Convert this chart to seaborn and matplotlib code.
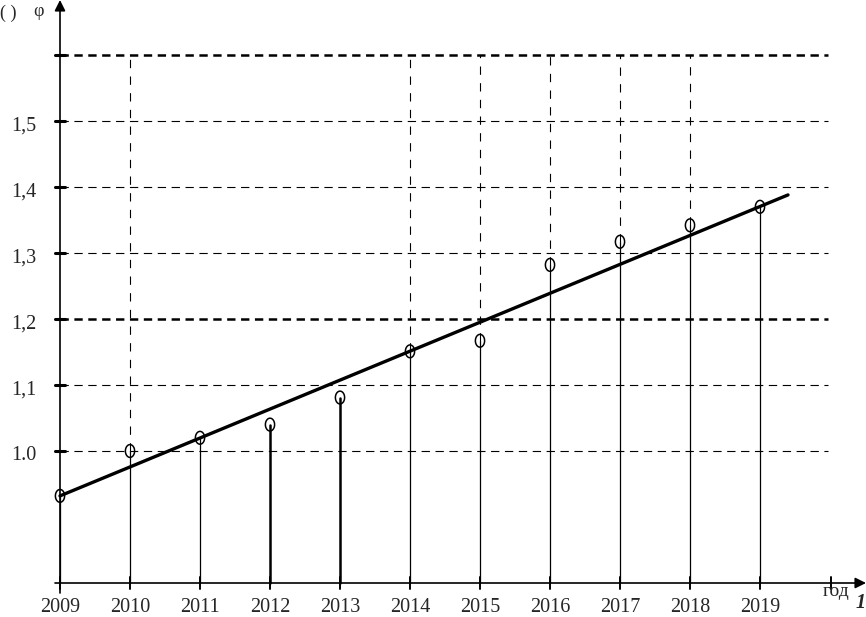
import numpy as np
import matplotlib
matplotlib.use("Agg")
import matplotlib.pyplot as plt
import seaborn as sns
import pandas as pd

# data
years = [2009, 2010, 2011, 2012, 2013, 2014, 2015, 2016, 2017, 2018, 2019]
phi = [0.932, 1.0, 1.02, 1.04, 1.081, 1.151, 1.167, 1.282, 1.317, 1.342, 1.37]
trend_x = [2009, 2019.4]
trend_y = [0.932, 1.388]
grid_vals = [1.0, 1.1, 1.2, 1.3, 1.4, 1.5, 1.6]
ytick_vals = [1.0, 1.1, 1.2, 1.3, 1.4, 1.5]
ytick_labels = ["1.0", "1,1", "1,2", "1,3", "1,4", "1,5"]
dashed_years = [2010, 2014, 2015, 2016, 2017, 2018]
year_labels = [str(y) for y in years]

sns.set_style("white")
plt.rcParams['font.family'] = ['Liberation Serif', 'DejaVu Serif']
plt.rcParams['lines.scale_dashes'] = False

fig = plt.figure(figsize=(8.66, 6.17), dpi=100)
ax = fig.add_axes([0, 0, 1, 1])
# pixel mapping: x=60 -> 2009, 70 px per year; y=583 -> 0.8, 660 px per unit
ax.set_xlim(2009 - 60 / 70, 2009 + 806 / 70)
ax.set_ylim(0.8 - 34 / 660, 0.8 + 583 / 660)
ax.axis("off")

x_end = 2009 + 768 / 70   # where the grid stops (near "год" tick)

# horizontal dashed grid
for v in grid_vals:
    lw = 1.8 if v in (1.2, 1.6) else 0.8
    ax.plot([2009, x_end], [v, v], color="black", lw=lw, dashes=(6, 4))

# vertical dashed lines above some points
df = pd.DataFrame({"year": years, "phi": phi})
for y in dashed_years:
    p = df.loc[df.year == y, "phi"].iloc[0]
    ax.plot([y, y], [p, 1.6], color="black", lw=0.8, dashes=(6, 6))

# stems
for y, p in zip(years, phi):
    lw = 1.8 if y in (2012, 2013) else 0.9
    ax.plot([y, y], [0.8, p], color="black", lw=lw)

# trend line
sns.lineplot(x=trend_x, y=trend_y, ax=ax, color="black", lw=2.4)

# ellipse markers (hollow)
t = np.linspace(0, 2 * np.pi, 40)
ell = np.column_stack([0.72 * np.cos(t), np.sin(t)])
sns.scatterplot(data=df, x="year", y="phi", ax=ax, marker=ell, s=85,
                facecolor="none", edgecolor="black", linewidth=1.1, zorder=5)

# axes with arrows
ax.annotate("", xy=(2009, 0.8 + 583 / 660), xytext=(2009, 0.8 - 10 / 660),
            arrowprops=dict(arrowstyle="-|>", color="black", lw=1.2,
                            mutation_scale=16, shrinkA=0, shrinkB=0))
ax.annotate("", xy=(2009 + 806 / 70, 0.8), xytext=(2009 - 5 / 70, 0.8),
            arrowprops=dict(arrowstyle="-|>", color="black", lw=1.2,
                            mutation_scale=16, shrinkA=0, shrinkB=0))

# tick marks
for v in grid_vals:
    ax.plot([2009 - 5 / 70, 2009 + 5 / 70], [v, v], color="black", lw=2.2)
for y in years + [2009 + 771 / 70]:
    ax.plot([y, y], [0.8 - 6 / 660, 0.8 + 6 / 660], color="black", lw=1.4)

# labels
for v, lab in zip(ytick_vals, ytick_labels):
    ax.text(2009 - 24 / 70, v - 5 / 660, lab, ha="right", va="center", fontsize=14.5)
for y, lab in zip(years, year_labels):
    ax.text(y, 0.8 - 24 / 660, lab, ha="center", va="center", fontsize=14.5)

ax.text(2009 - 52 / 70, 0.8 + 570 / 660, "( )", ha="center", va="center", fontsize=13)
ax.text(2009 - 22 / 70, 0.8 + 571 / 660, "φ", ha="center", va="center", fontsize=13)
ax.text(2009 + 776 / 70, 0.8 - 9 / 660, "год", ha="center", va="center", fontsize=14)
ax.text(2009 + 801 / 70, 0.8 - 20 / 660, "1", ha="center", va="center", fontsize=14.5,
        fontweight="bold", style="italic")

fig.savefig("out.png", dpi=100)
